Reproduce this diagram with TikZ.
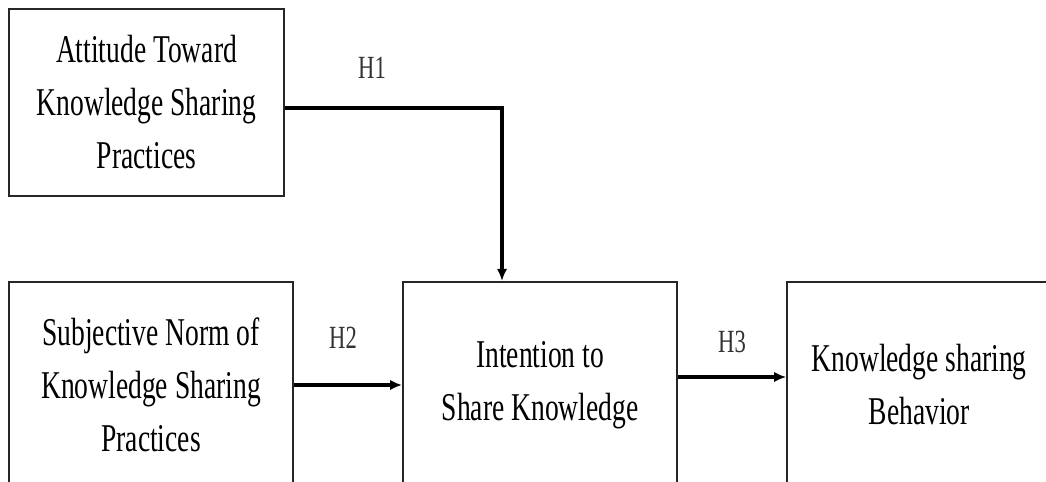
\documentclass[tikz,border=0pt]{standalone}
\usepackage{fontspec}
\setmainfont{Liberation Serif}[FakeStretch=0.70]
\usetikzlibrary{positioning, arrows.meta}

\begin{document}
\begin{tikzpicture}
\tikzstyle{box}=[rectangle, draw=black!85, line width=1.5pt, align=center, font=\fontsize{28}{37.7}\selectfont, inner sep=0pt]
\tikzstyle{connect}=[-{Latex[length=3mm,width=2.6mm]}, line width=2.2pt, black]
\tikzstyle{hyp}=[font=\fontsize{23}{28}\selectfont, text=black!80]
\useasboundingbox (0,0) rectangle (26.15,12.025);
\clip (0,0) rectangle (26.15,12.025);
% 2. Nodes
%%%%%%%%%%
\node[box, minimum width=7.1cm, minimum height=5.15cm] (subj) at (3.775,2.4) {Subjective Norm of\\Knowledge Sharing\\Practices};
\node[box, minimum width=6.85cm, minimum height=5.15cm] (intent) [right=2.7cm of subj] {Intention to\\Share Knowledge};
\node[box, minimum width=6.6cm, minimum height=5.15cm] (behav) [right=2.7cm of intent] {Knowledge sharing\\Behavior};
\node[box, minimum width=6.875cm, minimum height=4.675cm] (attitude) at (3.6625,9.4625) {Attitude Toward\\Knowledge Sharing\\Practices};

\coordinate (bend) at (12.55,9.325);

\node[hyp] (h1) at (9.3,10.325) {H1};
\node[hyp] (h2) at (8.575,3.575) {H2};
\node[hyp] (h3) at (18.3,3.475) {H3};
% 3. Arrows
%%%%%%%%%%%
\draw[connect] (attitude.east |- bend) -- (bend) -- (bend |- intent.north);
\path (subj)  edge [connect] (intent)
      ([yshift=0.2cm]intent.east) edge [connect] ([yshift=0.2cm]behav.west);

\end{tikzpicture}
\end{document}
